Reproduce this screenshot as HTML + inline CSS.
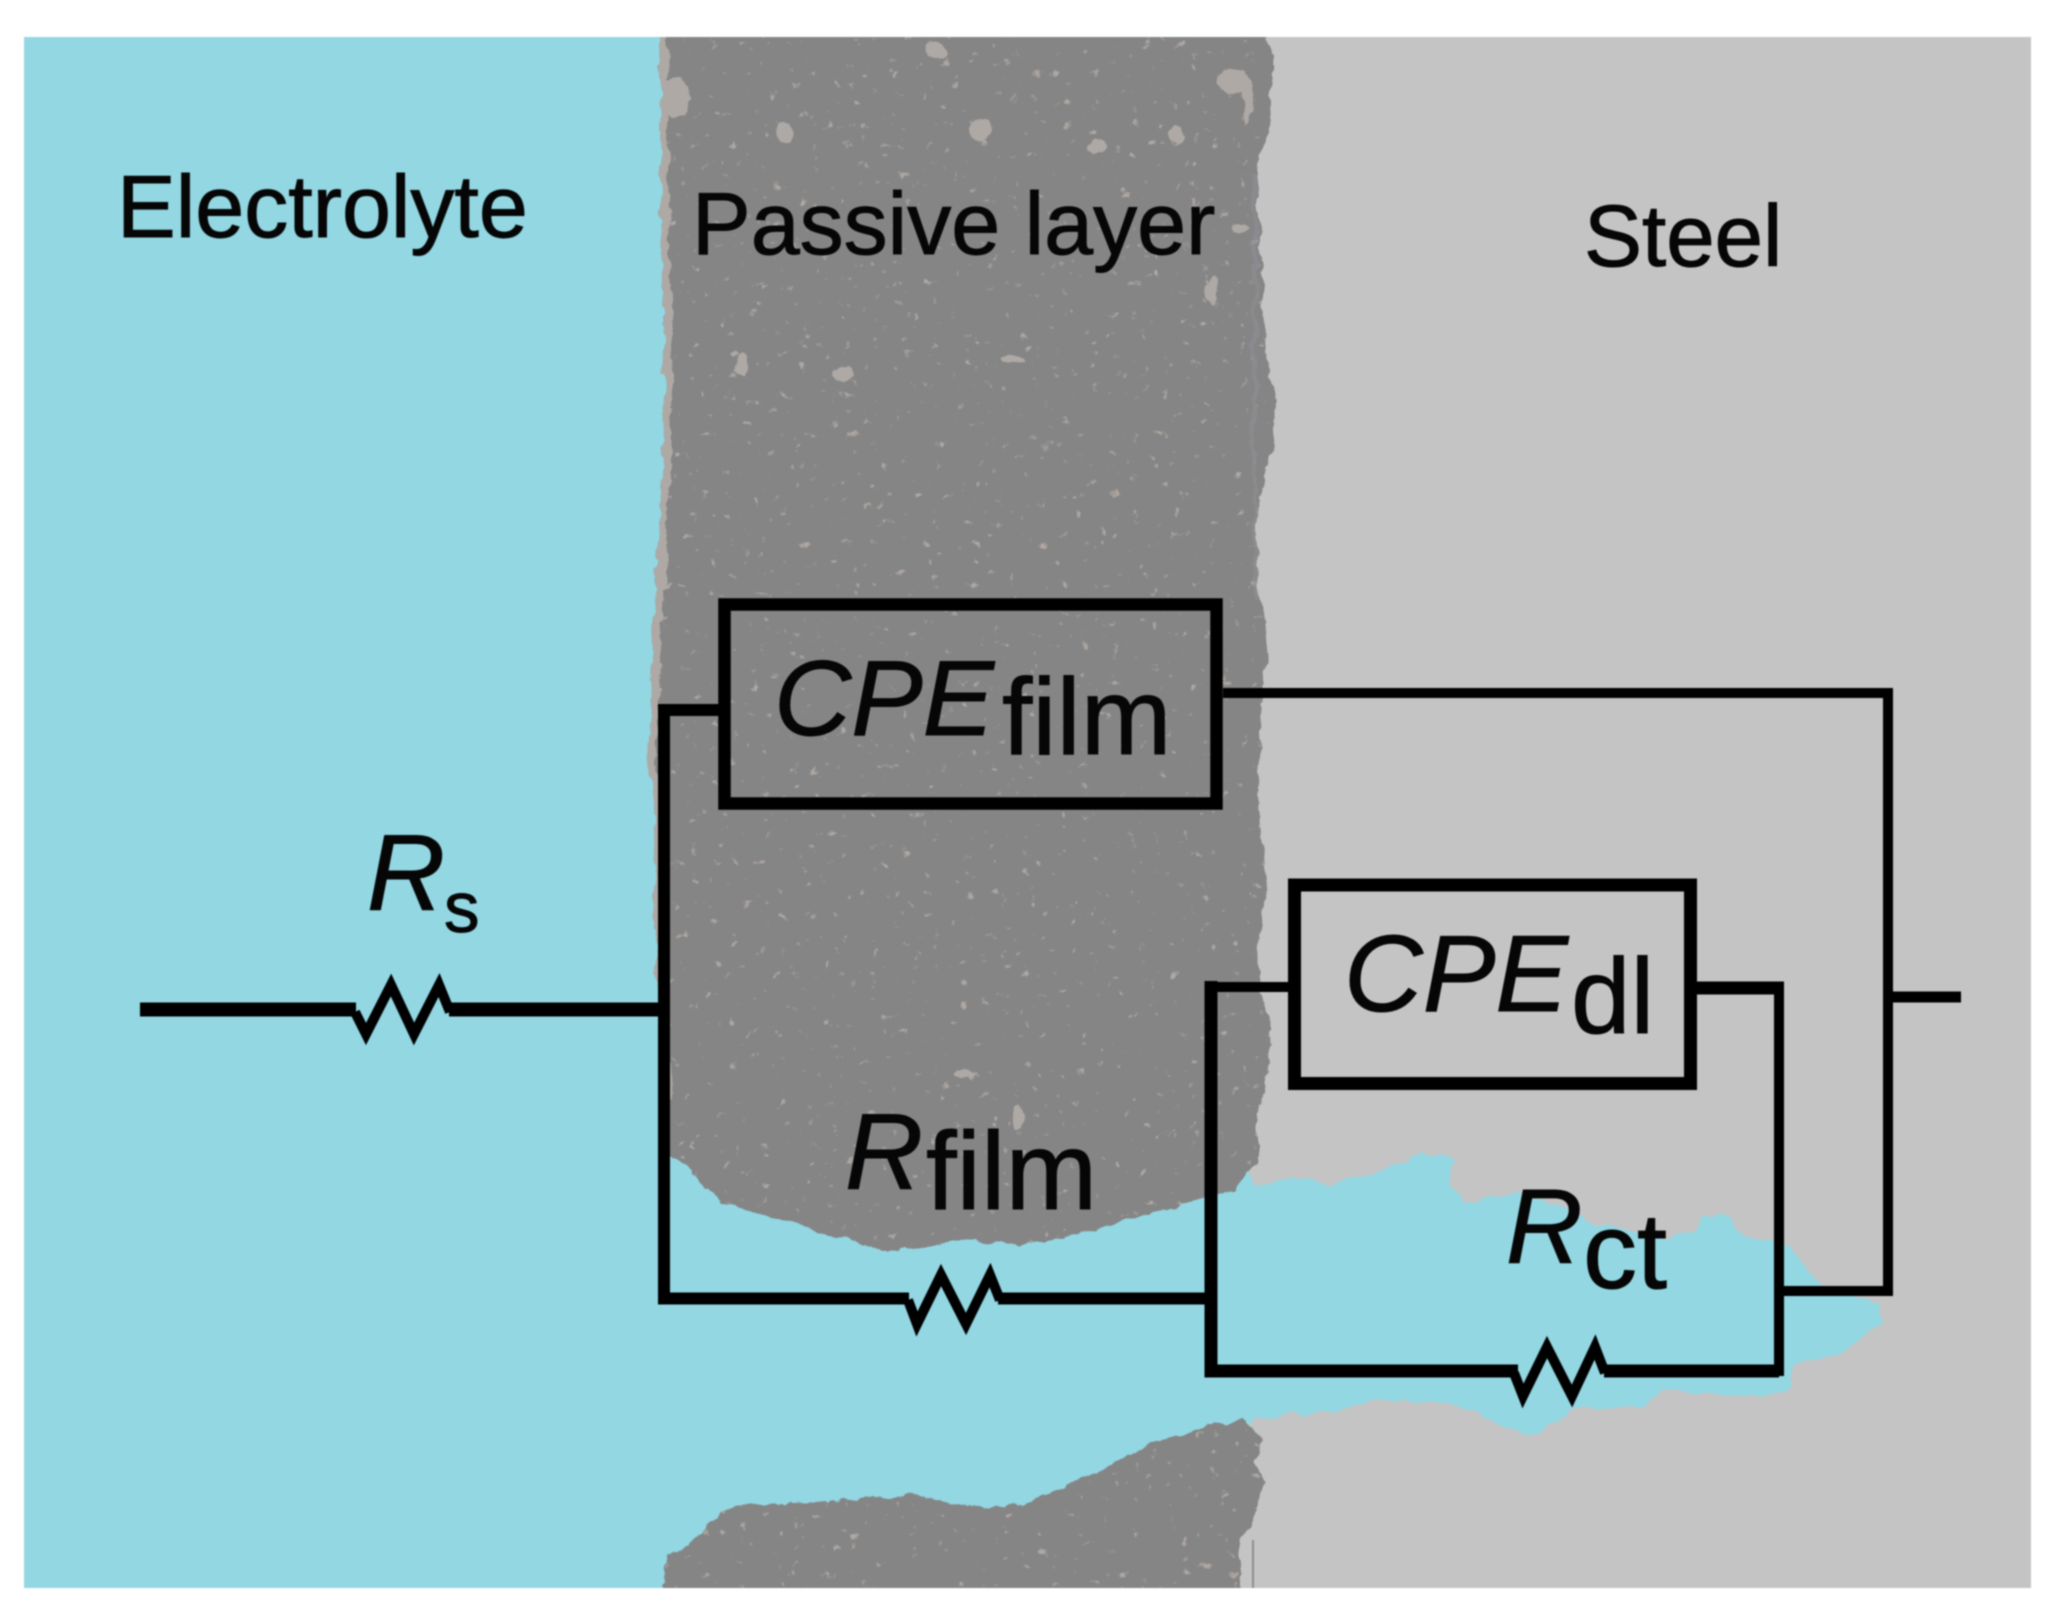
<!DOCTYPE html>
<html>
<head>
<meta charset="utf-8">
<style>
html,body{margin:0;padding:0;background:#fff;width:2057px;height:1621px;overflow:hidden}
svg{display:block;filter:blur(0.7px)}
text{font-family:"Liberation Sans",Arial,sans-serif;fill:#060606;stroke:#060606;stroke-width:1}
.i{font-style:italic}
</style>
</head>
<body>
<svg xmlns="http://www.w3.org/2000/svg" width="2057" height="1621" viewBox="0 0 2057 1621">
<defs>
<filter id="sp" x="0" y="0" width="100%" height="100%" color-interpolation-filters="sRGB">
<feTurbulence type="fractalNoise" baseFrequency="0.1" numOctaves="3" seed="11"/>
<feColorMatrix type="matrix" values="0 0 0 0 0.69  0 0 0 0 0.66  0 0 0 0 0.64  8 0 0 0 -5.7"/>
</filter>
<filter id="rough" filterUnits="userSpaceOnUse" x="0" y="0" width="2057" height="1621" color-interpolation-filters="sRGB">
<feTurbulence type="fractalNoise" baseFrequency="0.05" numOctaves="4" seed="3" result="n"/>
<feDisplacementMap in="SourceGraphic" in2="n" scale="11" xChannelSelector="R" yChannelSelector="G"/>
</filter>
<clipPath id="frame"><rect x="24" y="37" width="2007" height="1551"/></clipPath>
<clipPath id="gc">
<polygon points="660,25 1248,25 1268,43 1273,56 1271,117 1268,145 1256,163 1261,255 1266,357 1276,403 1268,474 1256,510 1258,587 1268,633 1261,714 1258,800 1266,899 1256,957 1271,1036 1258,1114 1258,1166 1233,1190 1202,1198 1085,1232 1034,1245 962,1240 932,1248 881,1250 779,1219 722,1203 669,1151 656,957 654,800 648,765 654,612 661,510 664,408 661,204"/>
<polygon points="664,1600 666,1554 692,1543 722,1512 753,1504 916,1496 978,1508 1023,1504 1171,1436 1243,1418 1263,1441 1256,1460 1263,1481 1253,1522 1240,1538 1240,1600"/>
</clipPath>
</defs>

<!-- steel -->
<rect x="24" y="37" width="2007" height="1551" fill="#c4c4c4"/>
<!-- electrolyte -->
<rect x="24" y="37" width="680" height="1551" fill="#93d7e3"/>
<!-- channel -->
<polygon filter="url(#rough)" fill="#93d7e3" points="640,1140 1240,1140 1255,1185 1293,1177 1331,1185 1419,1156 1440,1153 1454,1161 1451,1187 1468,1203 1517,1193 1555,1203 1600,1225 1670,1240 1697,1229 1703,1214 1730,1216 1746,1237 1790,1245 1804,1266 1820,1284 1880,1305 1883,1321 1850,1347 1831,1358 1793,1363 1793,1386 1768,1397 1664,1389 1643,1407 1572,1410 1539,1436 1511,1428 1457,1405 1375,1399 1320,1413 1255,1418 1240,1450 1100,1560 640,1570"/>
<!-- passive layer -->
<g clip-path="url(#frame)">
<g filter="url(#rough)">
<polygon fill="#858585" points="660,25 1248,25 1268,43 1273,56 1271,117 1268,145 1256,163 1261,255 1266,357 1276,403 1268,474 1256,510 1258,587 1268,633 1261,714 1258,800 1266,899 1256,957 1271,1036 1258,1114 1258,1166 1233,1190 1202,1198 1085,1232 1034,1245 962,1240 932,1248 881,1250 779,1219 722,1203 669,1151 656,957 654,800 648,765 654,612 661,510 664,408 661,204"/>
<polygon fill="#858585" points="664,1600 666,1554 692,1543 722,1512 753,1504 916,1496 978,1508 1023,1504 1171,1436 1243,1418 1263,1441 1256,1460 1263,1481 1253,1522 1240,1538 1240,1600"/>
<g clip-path="url(#gc)">
<rect x="640" y="25" width="650" height="1575" filter="url(#sp)"/>
<polyline fill="none" stroke="#aea9a5" stroke-width="8" points="663,25 665,204 668,408 665,510 658,612 652,765 658,800 660,957 668,1100"/>
<g fill="#aea9a5">
<ellipse cx="676" cy="97" rx="14" ry="20"/>
<ellipse cx="786" cy="133" rx="8" ry="12"/>
<ellipse cx="980" cy="130" rx="12" ry="11"/>
<ellipse cx="1233" cy="82" rx="17" ry="11"/>
<ellipse cx="1248" cy="100" rx="5" ry="24"/>
<ellipse cx="1097" cy="146" rx="9" ry="7"/>
<ellipse cx="1177" cy="135" rx="8" ry="10"/>
<ellipse cx="937" cy="51" rx="11" ry="8"/>
<ellipse cx="742" cy="364" rx="6" ry="11"/>
<ellipse cx="843" cy="374" rx="10" ry="7"/>
<ellipse cx="1013" cy="360" rx="12" ry="5"/>
<ellipse cx="1213" cy="290" rx="6" ry="15"/>
<ellipse cx="964" cy="1073" rx="12" ry="5"/>
<ellipse cx="1018" cy="1118" rx="6" ry="12"/>
<ellipse cx="1240" cy="227" rx="8" ry="5"/>
<ellipse cx="1260" cy="560" rx="3" ry="40"/>
</g>
<polyline fill="none" stroke="#8f8f96" stroke-width="4" opacity="0.6" points="1254,175 1256,260 1254,520 1256,600"/>
</g>
</g>
</g>
<rect x="1252" y="1540" width="2" height="48" fill="#8e8e92"/>

<!-- wires -->
<g fill="none" stroke="#000" stroke-linejoin="miter" stroke-miterlimit="10">
<rect x="724.5" y="604.5" width="492" height="199" stroke-width="12.5"/>
<rect x="1294.5" y="885" width="396" height="198.5" stroke-width="13"/>
<!-- Rs -->
<polyline stroke-width="14" points="140,1009.5 356,1009.5"/>
<polyline stroke-width="14" points="449,1009.5 660,1009.5"/>
<polyline stroke-width="10" points="355,1012 366,1034 391,985 414,1034 439,985 450,1012"/>
<!-- film branch -->
<polyline stroke-width="12" points="725,710 664,710 664,1298.5 909,1298.5"/>
<polyline stroke-width="12" points="998,1298.5 1211,1298.5"/>
<polyline stroke-width="10" points="908,1300 917,1324 941,1275 966,1324 990,1275 1000,1300"/>
<!-- CPE film to right -->
<polyline stroke-width="10" points="1223,693 1888,693 1888,1291 1780,1291"/>
<polyline stroke-width="11" points="1888,997 1961,997"/>
<!-- inner -->
<polyline stroke-width="10" points="1295,987 1211,987"/>
<polyline stroke-width="13" points="1211,981 1211,1371 1518,1371"/>
<polyline stroke-width="13" points="1604,1371 1779,1371"/>
<polyline stroke-width="10" points="1779,1376 1779,988"/>
<polyline stroke-width="13" points="1690,988 1784,988"/>
<polyline stroke-width="10" points="1514,1373 1523,1396 1547,1347 1572,1396 1595,1347 1605,1373"/>
</g>

<!-- labels -->
<text x="117" y="237" font-size="88">Electrolyte</text>
<text x="692" y="254" font-size="88">Passive layer</text>
<text x="1584" y="266" font-size="87">Steel</text>

<text class="i" x="774" y="735" font-size="107">CPE</text>
<text x="1002" y="754" font-size="109">film</text>

<text class="i" x="1344" y="1011" font-size="109">CPE</text>
<text x="1571" y="1033" font-size="107">dl</text>

<text class="i" x="845" y="1189" font-size="108">R</text>
<text x="926" y="1209" font-size="110">film</text>

<text class="i" x="1506" y="1263" font-size="106">R</text>
<text x="1583" y="1288" font-size="108">ct</text>

<text class="i" x="367" y="910" font-size="108">R</text>
<text x="444" y="932" font-size="71">s</text>
</svg>
</body>
</html>
